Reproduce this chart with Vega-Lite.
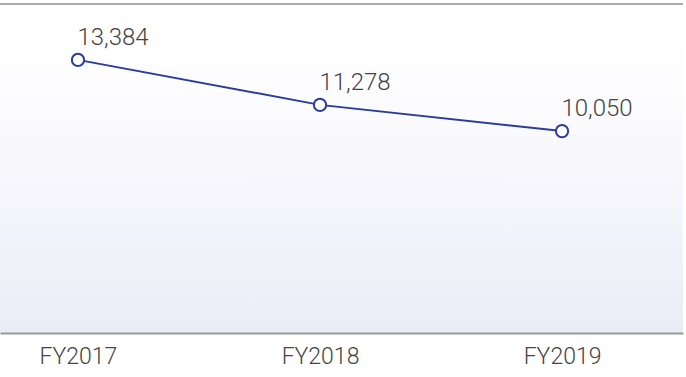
{
  "$schema": "https://vega.github.io/schema/vega-lite/v6.json",
  "autosize": {"type": "none"},
  "width": 683,
  "height": 329,
  "padding": {"left": 0, "top": 4, "right": 3, "bottom": 44},
  "background": "white",
  "config": {
    "view": {
      "stroke": null,
      "fill": {"gradient": "linear", "x1": 0, "y1": 0, "x2": 0, "y2": 1,
        "stops": [
          {"offset": 0, "color": "#ffffff"},
          {"offset": 0.25, "color": "#fdfdff"},
          {"offset": 1, "color": "#ececf7"}
        ]}
    },
    "font": "Roboto"
  },
  "data": {"values": [
    {"year": "FY2017", "value": 13384},
    {"year": "FY2018", "value": 11278},
    {"year": "FY2019", "value": 10050}
  ]},
  "encoding": {
    "x": {"field": "year", "type": "ordinal",
      "scale": {"type": "point", "padding": 0.411, "align": 0.392},
      "axis": {"title": null, "labelAngle": 0, "ticks": false, "grid": false,
        "domainColor": "#9a9a9a", "domainWidth": 2, "labelFontSize": 23,
        "labelColor": "#444444", "labelPadding": 12, "labelFont": "Roboto", "labelFontWeight": 300}},
    "y": {"field": "value", "type": "quantitative",
      "scale": {"domain": [600, 16000], "nice": false, "zero": false},
      "axis": null}
  },
  "layer": [
    {"mark": {"type": "rule", "color": "#ababab", "strokeWidth": 2},
     "encoding": {"y": {"datum": 16000}, "x": null}},
    {"mark": {"type": "line", "color": "#2b3d9a", "strokeWidth": 2}},
    {"mark": {"type": "point", "filled": false, "fill": "white", "stroke": "#2b3d9a", "strokeWidth": 2, "size": 150, "opacity": 1}},
    {"mark": {"type": "text", "dx": 35, "dy": -22, "fontSize": 24, "fontWeight": 300, "color": "#444444", "font": "Roboto", "align": "center", "baseline": "middle"},
     "encoding": {"text": {"field": "value", "type": "quantitative", "format": ","}}}
  ]
}
